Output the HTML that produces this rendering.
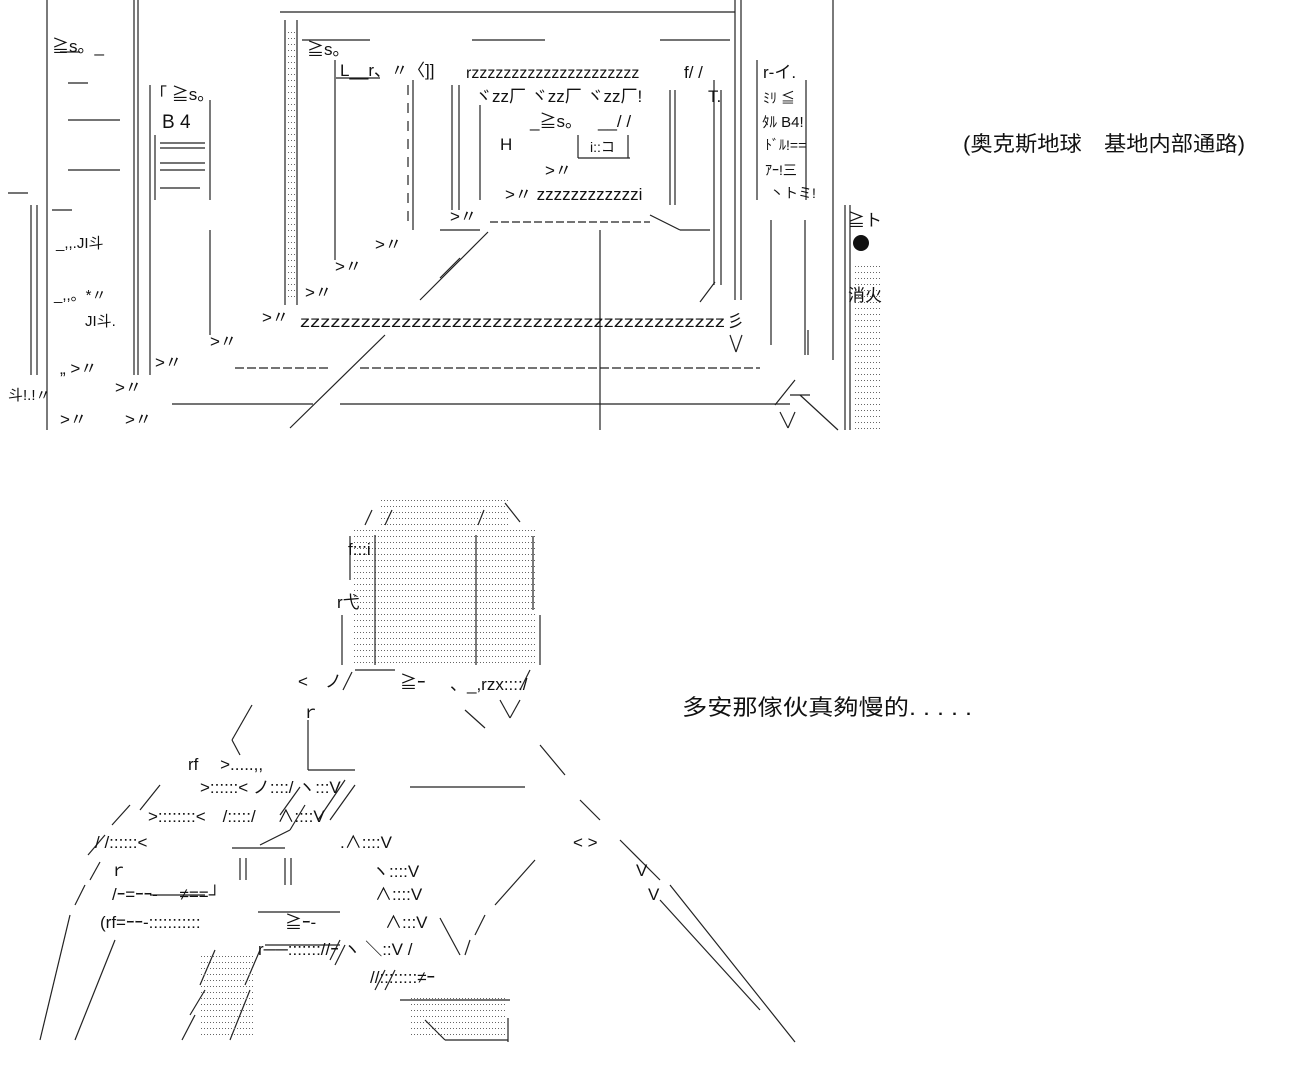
<!DOCTYPE html>
<html><head><meta charset="utf-8"><style>
html,body{margin:0;padding:0;background:#fff;width:1300px;height:1070px;overflow:hidden}
svg{display:block}
text{font-family:"Liberation Sans","Noto Sans CJK SC",sans-serif;fill:#111}
</style></head><body>
<svg width="1300" height="1070" viewBox="0 0 1300 1070" xmlns="http://www.w3.org/2000/svg">
<defs>
<pattern id="dt" width="3" height="6" patternUnits="userSpaceOnUse"><rect x="0" y="2" width="1" height="1" fill="#666"/></pattern>
</defs>
<g stroke="#222" stroke-width="1.2" fill="none">
<line x1="47" y1="0" x2="47" y2="430"/>
<line x1="134" y1="0" x2="134" y2="375"/><line x1="138" y1="0" x2="138" y2="375"/>
<line x1="31" y1="205" x2="31" y2="375"/><line x1="37" y1="205" x2="37" y2="375"/>
<line x1="150" y1="85" x2="150" y2="375"/><line x1="155" y1="135" x2="155" y2="200"/>
<line x1="210" y1="100" x2="210" y2="200"/><line x1="210" y1="230" x2="210" y2="335"/>
<line x1="60" y1="52" x2="80" y2="52" /><line x1="68" y1="83" x2="88" y2="83"/>
<line x1="68" y1="120" x2="120" y2="120"/><line x1="68" y1="170" x2="120" y2="170"/>
<line x1="8" y1="193" x2="28" y2="193"/><line x1="52" y1="210" x2="72" y2="210"/>
<line x1="160" y1="143" x2="205" y2="143"/><line x1="160" y1="148" x2="205" y2="148"/>
<line x1="160" y1="163" x2="205" y2="163"/><line x1="160" y1="170" x2="205" y2="170"/>
<line x1="160" y1="188" x2="200" y2="188"/>
<line x1="285" y1="20" x2="285" y2="305"/><line x1="297" y1="20" x2="297" y2="305"/>
<rect x="288" y="30" width="7" height="270" fill="url(#dt)" stroke="none"/>
<line x1="335" y1="60" x2="335" y2="260"/>
<line x1="413" y1="80" x2="413" y2="230"/><line x1="408" y1="85" x2="408" y2="225" stroke-dasharray="10 8"/>
<line x1="452" y1="85" x2="452" y2="210"/><line x1="459" y1="85" x2="459" y2="210"/><line x1="480" y1="105" x2="480" y2="200"/>
<line x1="670" y1="90" x2="670" y2="205"/><line x1="675" y1="90" x2="675" y2="205"/>
<line x1="714" y1="80" x2="714" y2="285"/><line x1="721" y1="90" x2="721" y2="285"/>
<line x1="735" y1="0" x2="735" y2="300"/><line x1="741" y1="0" x2="741" y2="300"/>
<line x1="757" y1="60" x2="757" y2="200"/><line x1="806" y1="80" x2="806" y2="200"/>
<line x1="771" y1="220" x2="771" y2="345"/><line x1="805" y1="220" x2="805" y2="355"/>
<line x1="833" y1="0" x2="833" y2="360"/>
<line x1="845" y1="205" x2="845" y2="430"/><line x1="850" y1="205" x2="850" y2="430"/>
<rect x="853" y="262" width="28" height="168" fill="url(#dt)" stroke="none"/>
<line x1="600" y1="230" x2="600" y2="430"/>
<line x1="280" y1="12" x2="735" y2="12"/>
<line x1="302" y1="40" x2="370" y2="40"/><line x1="472" y1="40" x2="545" y2="40"/><line x1="660" y1="40" x2="730" y2="40"/>
<line x1="336" y1="78" x2="380" y2="78"/>
<line x1="440" y1="230" x2="480" y2="230"/><line x1="490" y1="222" x2="650" y2="222" stroke-dasharray="8 3"/>
<line x1="650" y1="215" x2="680" y2="230"/><line x1="680" y1="230" x2="710" y2="230"/>
<line x1="578" y1="158" x2="630" y2="158"/><line x1="578" y1="135" x2="578" y2="158"/><line x1="628" y1="135" x2="628" y2="158"/>
<line x1="235" y1="368" x2="330" y2="368" stroke-dasharray="9 3"/>
<line x1="360" y1="368" x2="760" y2="368" stroke-dasharray="9 3"/>
<line x1="172" y1="404" x2="313" y2="404"/><line x1="340" y1="404" x2="790" y2="404"/>
<line x1="488" y1="232" x2="420" y2="300"/><line x1="460" y1="258" x2="440" y2="278"/>
<line x1="385" y1="335" x2="290" y2="428"/>
<line x1="795" y1="380" x2="775" y2="405"/><line x1="790" y1="395" x2="810" y2="395"/>
<line x1="800" y1="395" x2="838" y2="430"/><line x1="780" y1="412" x2="788" y2="428"/><line x1="788" y1="428" x2="795" y2="412"/>
<line x1="715" y1="282" x2="700" y2="302"/>
<line x1="730" y1="335" x2="736" y2="352"/><line x1="736" y1="352" x2="742" y2="335"/>
<line x1="808" y1="330" x2="808" y2="355"/>
<rect x="352" y="530" width="183" height="135" fill="url(#dt)" stroke="none"/>
<rect x="380" y="500" width="130" height="28" fill="url(#dt)" stroke="none"/>
<line x1="350" y1="536" x2="350" y2="580"/><line x1="533" y1="536" x2="533" y2="610"/>
<line x1="342" y1="615" x2="342" y2="665"/><line x1="540" y1="615" x2="540" y2="665"/>
<line x1="375" y1="535" x2="375" y2="665"/><line x1="476" y1="535" x2="476" y2="665"/>
<line x1="365" y1="525" x2="372" y2="510"/><line x1="385" y1="525" x2="392" y2="510"/><line x1="478" y1="525" x2="484" y2="510"/>
<line x1="505" y1="503" x2="520" y2="522"/>
<line x1="355" y1="670" x2="395" y2="670"/><line x1="343" y1="690" x2="352" y2="672"/>
<line x1="465" y1="710" x2="485" y2="728"/><line x1="520" y1="700" x2="510" y2="718"/><line x1="500" y1="700" x2="510" y2="718"/>
<line x1="530" y1="670" x2="520" y2="690"/>
<line x1="308" y1="720" x2="308" y2="770"/><line x1="308" y1="770" x2="355" y2="770"/>
<line x1="410" y1="787" x2="525" y2="787"/>
<line x1="252" y1="705" x2="232" y2="740"/><line x1="232" y1="740" x2="240" y2="755"/>
<line x1="540" y1="745" x2="565" y2="775"/><line x1="580" y1="800" x2="600" y2="820"/>
<line x1="620" y1="840" x2="660" y2="880"/>
<line x1="670" y1="885" x2="795" y2="1042"/><line x1="660" y1="900" x2="760" y2="1010"/>
<line x1="535" y1="860" x2="495" y2="905"/>
<line x1="160" y1="785" x2="140" y2="810"/><line x1="130" y1="805" x2="112" y2="825"/>
<line x1="105" y1="835" x2="88" y2="855"/><line x1="100" y1="862" x2="90" y2="880"/>
<line x1="85" y1="885" x2="75" y2="905"/><line x1="70" y1="915" x2="40" y2="1040"/>
<line x1="115" y1="940" x2="75" y2="1040"/>
<line x1="300" y1="787" x2="280" y2="815"/><line x1="305" y1="805" x2="290" y2="830"/>
<line x1="290" y1="830" x2="260" y2="845"/>
<line x1="232" y1="848" x2="285" y2="848"/><line x1="240" y1="858" x2="240" y2="880"/><line x1="246" y1="858" x2="246" y2="880"/>
<line x1="285" y1="858" x2="285" y2="885"/><line x1="291" y1="858" x2="291" y2="885"/>
<line x1="345" y1="780" x2="318" y2="820"/><line x1="355" y1="785" x2="330" y2="820"/>
<line x1="150" y1="895" x2="205" y2="895"/><line x1="258" y1="912" x2="340" y2="912"/>
<line x1="265" y1="945" x2="340" y2="945"/>
<line x1="215" y1="950" x2="200" y2="985"/><line x1="205" y1="990" x2="190" y2="1015"/><line x1="195" y1="1015" x2="182" y2="1040"/>
<line x1="260" y1="950" x2="245" y2="985"/><line x1="250" y1="990" x2="240" y2="1015"/><line x1="240" y1="1015" x2="230" y2="1040"/>
<rect x="200" y="955" width="55" height="85" fill="url(#dt)" stroke="none"/>
<line x1="385" y1="970" x2="375" y2="990"/><line x1="395" y1="970" x2="385" y2="990"/>
<line x1="400" y1="1000" x2="510" y2="1000"/><line x1="425" y1="1020" x2="445" y2="1040"/>
<line x1="445" y1="1040" x2="508" y2="1040"/><line x1="508" y1="1018" x2="508" y2="1042"/>
<rect x="410" y="995" width="95" height="43" fill="url(#dt)" stroke="none"/>
<line x1="340" y1="940" x2="330" y2="960"/><line x1="345" y1="945" x2="335" y2="965"/>
<line x1="440" y1="918" x2="460" y2="955"/><line x1="470" y1="940" x2="465" y2="955"/>
<line x1="485" y1="915" x2="475" y2="935"/>
</g>
<g font-size="17">
<text x="52" y="52">≧s。_</text>
<text x="150" y="100">「 ≧s。</text>
<text x="162" y="128" font-size="19">B 4</text>
<text x="307" y="55">≧s。</text>
<text x="340" y="76">L__r、〃〈]]</text>
<text x="466" y="78" font-size="16">rzzzzzzzzzzzzzzzzzzzzz</text>
<text x="684" y="78">f/ /</text>
<text x="763" y="78">r‐イ.</text>
<text x="475" y="102">ヾzz厂 ヾzz厂 ヾzz厂!</text>
<text x="708" y="102">T.</text>
<text x="763" y="103" font-size="14">ﾐﾘ ≦</text>
<text x="530" y="127">_≧s。</text>
<text x="598" y="127">__/ /</text>
<text x="500" y="150">H</text>
<text x="762" y="127" font-size="15">ﾀﾙ B4!</text>
<text x="765" y="150" font-size="14">ﾄﾞﾙ!==</text>
<text x="765" y="175" font-size="14">ｱｰ!三</text>
<text x="590" y="152" font-size="14">i::コ</text>
<text x="545" y="176">&gt;〃</text>
<text x="505" y="200">&gt;〃 zzzzzzzzzzzzi</text>
<text x="770" y="198" font-size="14">丶トミ!</text>
<text x="848" y="226">≧ト</text>
<text x="848" y="301">消火</text>
<text x="56" y="248" font-size="15">_,,.JI斗</text>
<text x="54" y="300" font-size="15">_,,。*〃</text>
<text x="85" y="326" font-size="15">JI斗.</text>
<text x="8" y="400" font-size="15">斗!.!〃</text>
<text x="60" y="374">„ &gt;〃</text>
<text x="115" y="393">&gt;〃</text>
<text x="60" y="425">&gt;〃</text>
<text x="125" y="425">&gt;〃</text>
<text x="155" y="368">&gt;〃</text>
<text x="210" y="347">&gt;〃</text>
<text x="262" y="323">&gt;〃</text>
<text x="305" y="298">&gt;〃</text>
<text x="335" y="272">&gt;〃</text>
<text x="375" y="250">&gt;〃</text>
<text x="450" y="222">&gt;〃</text>
<text x="300" y="327" font-size="16" textLength="425" lengthAdjust="spacingAndGlyphs">zzzzzzzzzzzzzzzzzzzzzzzzzzzzzzzzzzzzzzzzzz</text>
<text x="727" y="327">彡</text>
</g>
<circle cx="861" cy="243" r="8" fill="#111"/>
<text x="963" y="151" font-size="21" textLength="282" lengthAdjust="spacingAndGlyphs">(奥克斯地球　基地内部通路)</text>
<g font-size="17">
<text x="348" y="555">f:::i</text>
<text x="337" y="608">r弋</text>
<text x="298" y="687">&lt;　ノ</text>
<text x="400" y="688">≧ｰ</text>
<text x="450" y="690">、_,rzx::::/</text>
<text x="302" y="718">ｒ</text>
<text x="188" y="770">rf　 &gt;.....,,</text>
<text x="200" y="793">&gt;::::::&lt; ノ::::/ ヽ:::V</text>
<text x="148" y="822">&gt;::::::::&lt;　/:::::/　 ∧::::V</text>
<text x="95" y="848">/ /::::::&lt;</text>
<text x="340" y="848">.∧::::V</text>
<text x="372" y="877">ヽ::::V</text>
<text x="110" y="876">ｒ</text>
<text x="573" y="848">&lt; &gt;</text>
<text x="636" y="876">V</text>
<text x="648" y="900">V</text>
<text x="112" y="900">/ｰ=ｰｰ-　 ≠==┘</text>
<text x="375" y="900">∧::::V</text>
<text x="100" y="928">(rf=ｰｰ-:::::::::::</text>
<text x="285" y="928">≧ｰ-</text>
<text x="385" y="928">∧:::V</text>
<text x="258" y="955">r──::::::://ｰ ヽ ＼::V /</text>
<text x="370" y="983">//::::::::≠ｰ</text>
</g>
<text x="682" y="715" font-size="22" textLength="290" lengthAdjust="spacingAndGlyphs">多安那傢伙真夠慢的. . . . .</text>
</svg>
</body></html>
